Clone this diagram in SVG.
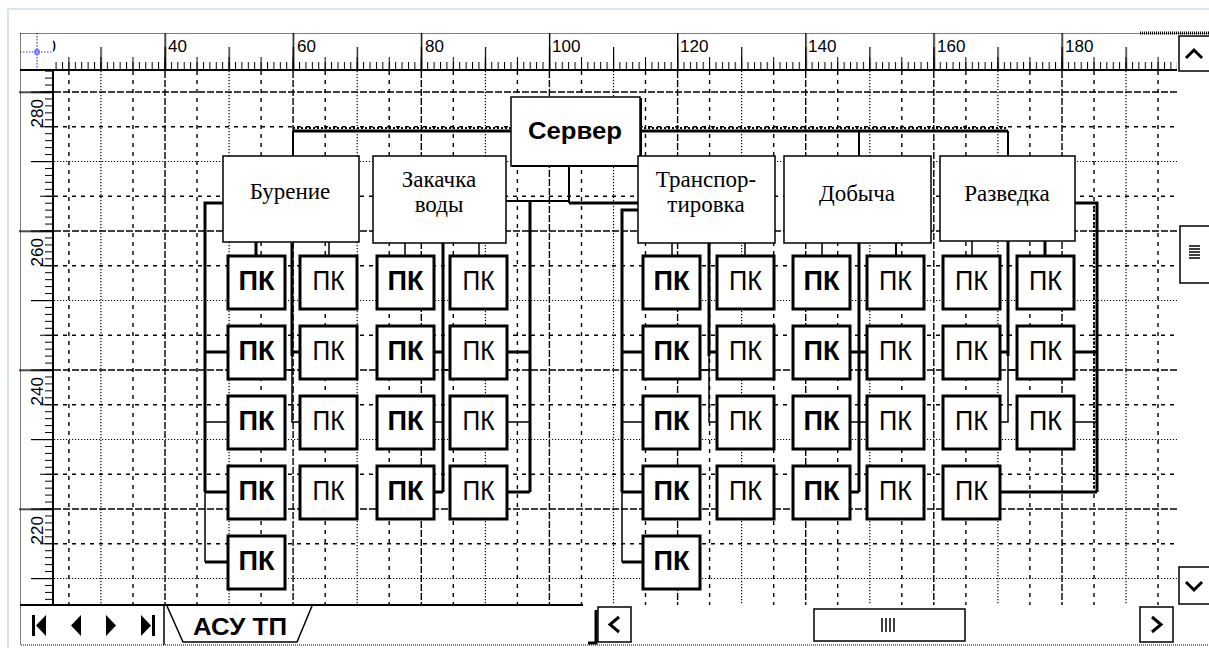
<svg xmlns="http://www.w3.org/2000/svg" width="1209" height="648" viewBox="0 0 1209 648">
<style>
.gM{stroke:#000;stroke-width:1.4;stroke-dasharray:7 2;fill:none}
.gF{stroke:#000;stroke-width:1.4;stroke-dasharray:4 5;fill:none}
.gT{stroke:#000;stroke-width:1.2;stroke-dasharray:1.2 1.8;fill:none}
.rl{font-family:"Liberation Sans",Arial,sans-serif;font-size:17px;fill:#000}
.dept rect{fill:#fff;stroke:#000;stroke-width:1.5}
.dept text{font-family:"Liberation Serif","Times New Roman",serif;font-size:23px;text-anchor:middle;fill:#000}
.pc rect{fill:#fff;stroke:#000;stroke-width:3}
.pc text{font-family:"Liberation Sans",Arial,sans-serif;font-size:27px;text-anchor:middle;fill:#000}
.b{font-weight:bold}
.thk{stroke:#000;stroke-width:3;fill:none}
.thn{stroke:#000;stroke-width:1.5;fill:none}
.mid{stroke:#000;stroke-width:2;fill:none}
.btn{fill:#fff;stroke:#000;stroke-width:1.5}
.chev{fill:none;stroke:#000;stroke-width:3}
</style>
<defs>
<pattern id="tU" patternUnits="userSpaceOnUse" x="164.5" y="62" width="6.407" height="8"><rect x="0" y="0" width="1" height="8" fill="#000"/></pattern>
<pattern id="tF" patternUnits="userSpaceOnUse" x="164.5" y="57" width="32.035" height="13"><rect x="0" y="0" width="1" height="13" fill="#000"/></pattern>
<pattern id="tT" patternUnits="userSpaceOnUse" x="164.5" y="47" width="64.07" height="23"><rect x="0" y="0" width="1.2" height="23" fill="#000"/></pattern>
<pattern id="tM" patternUnits="userSpaceOnUse" x="164.5" y="33" width="128.14" height="37"><rect x="0" y="0" width="1.4" height="37" fill="#000"/></pattern>
<pattern id="lU" patternUnits="userSpaceOnUse" x="45" y="230.5" width="8" height="6.95"><rect x="0" y="0" width="8" height="1" fill="#000"/></pattern>
<pattern id="lF" patternUnits="userSpaceOnUse" x="40" y="230.5" width="13" height="34.75"><rect x="0" y="0" width="13" height="1" fill="#000"/></pattern>
<pattern id="lT" patternUnits="userSpaceOnUse" x="31" y="230.5" width="22" height="69.5"><rect x="0" y="0" width="22" height="1.2" fill="#000"/></pattern>
<pattern id="lM" patternUnits="userSpaceOnUse" x="19" y="230.5" width="34" height="139"><rect x="0" y="0" width="34" height="1.4" fill="#000"/></pattern>
</defs>
<rect x="0" y="0" width="1209" height="648" fill="#fff"/>
<rect x="8" y="9" width="1215" height="660" fill="none" stroke="#d5e8f0" stroke-width="2"/>

<g id="grid">
<path class="gF" d="M68.9,71V605M133,71V605M197,71V605M261.1,71V605M325.2,71V605M389.2,71V605M453.3,71V605M517.4,71V605M581.5,71V605M645.5,71V605M709.6,71V605M773.7,71V605M837.7,71V605M901.8,71V605M965.9,71V605M1029.9,71V605M1094,71V605M1158,71V605"/>
<path class="gT" d="M100.9,71V605M229.1,71V605M357.2,71V605M485.4,71V605M613.5,71V605M741.6,71V605M869.8,71V605M997.9,71V605M1126,71V605"/>
<path class="gM" d="M165,71V605M293.1,71V605M421.3,71V605M549.4,71V605M677.6,71V605M805.7,71V605M933.8,71V605M1062,71V605"/>
<path class="gF" d="M54,126.8H1177M54,196.3H1177M54,265.8H1177M54,335.3H1177M54,404.8H1177M54,474.3H1177M54,543.8H1177"/>
<path class="gT" d="M54,161.5H1177M54,300.5H1177M54,439.5H1177M54,578.5H1177"/>
<path class="gM" d="M54,92H1177M54,231H1177M54,370H1177M54,509H1177"/>
</g>

<g id="rulers">
<rect x="53" y="62" width="1124" height="8" fill="url(#tU)"/>
<rect x="53" y="57" width="1124" height="13" fill="url(#tF)"/>
<rect x="53" y="47" width="1124" height="23" fill="url(#tT)"/>
<rect x="53" y="33" width="1124" height="37" fill="url(#tM)"/>
<text class="rl" x="37" y="52">20</text>
<text class="rl" x="168" y="52">40</text>
<text class="rl" x="297" y="52">60</text>
<text class="rl" x="425" y="52">80</text>
<text class="rl" x="552" y="52">100</text>
<text class="rl" x="680" y="52">120</text>
<text class="rl" x="808" y="52">140</text>
<text class="rl" x="937" y="52">160</text>
<text class="rl" x="1065" y="52">180</text>
<rect x="45" y="71" width="8" height="534" fill="url(#lU)"/>
<rect x="40" y="71" width="13" height="534" fill="url(#lF)"/>
<rect x="31" y="71" width="22" height="534" fill="url(#lT)"/>
<rect x="19" y="71" width="34" height="534" fill="url(#lM)"/>
<text class="rl" text-anchor="end" transform="translate(43,99) rotate(-90)">280</text>
<text class="rl" text-anchor="end" transform="translate(43,238) rotate(-90)">260</text>
<text class="rl" text-anchor="end" transform="translate(43,377) rotate(-90)">240</text>
<text class="rl" text-anchor="end" transform="translate(43,516) rotate(-90)">220</text>
<rect x="20" y="33" width="33" height="37" fill="#fff"/>
<path d="M20,52H53M37,33V70" stroke="#3344ee" stroke-width="1.2" stroke-dasharray="1.5 1.5" fill="none"/>
<rect x="35" y="50" width="4" height="4" fill="none" stroke="#3344ee" stroke-width="1"/>
<path d="M20,70H1177M53,70V605" stroke="#000" stroke-width="2" fill="none"/>
</g>

<g id="connectors">
<path class="thk" d="M293,131H511M640,131H1008"/>
<path d="M293,128H511M640,128H1008" stroke="#000" stroke-width="2" stroke-dasharray="2 2" fill="none"/>
<path class="mid" d="M293,131V156M859,131V156M1008,131V156"/>
<path class="mid" d="M506,201H569M569,166V203"/>
<path class="thk" d="M569,203H638"/>
<path class="thk" d="M223,203H205V492"/>
<path class="thn" d="M205,492V562"/>
<path class="thk" d="M205,352H228M205,492H228M205,562H228"/>
<path class="thn" d="M205,422H228"/>
<path class="thk" d="M292,243V356M292,352H300"/>
<path class="thn" d="M292,356V422H300M285,370H292"/>
<path class="thk" d="M443,243V492M434,352H443M434,492H443"/>
<path class="thn" d="M434,422H443M443,370H450"/>
<path class="thk" d="M530,201V492M507,352H530M507,492H530"/>
<path class="thn" d="M507,422H530"/>
<path class="thk" d="M638,210H622V492M622,352H643M622,492H643M622,562H643"/>
<path class="thn" d="M622,492V562M622,422H643"/>
<path class="thk" d="M709,243V356M709,352H717"/>
<path class="thn" d="M709,356V422H717M700,370H709"/>
<path class="thk" d="M859,243V492M850,352H867M850,492H859"/>
<path class="thn" d="M850,422H867"/>
<path class="thk" d="M1008,241V356M1000,352H1008"/>
<path class="thn" d="M1008,356V422H1000M1008,370H1017"/>
<path class="thk" d="M1075,203H1097V492M1074,352H1097M1000,492H1097"/>
<path d="M1094,206V489" stroke="#000" stroke-width="2" stroke-dasharray="2 2" fill="none"/>
<path class="thn" d="M1074,422H1097"/>
<path class="thk" d="M256,242V256M1045,241V256"/>
<path class="thn" d="M329,242V256M405,243V256M479,243V256M672,243V256M745,243V256M822,243V256M972,241V256"/>
<path class="mid" d="M896,243V256"/>
</g>

<g id="server" class="dept">
<rect x="511" y="97" width="129" height="69" stroke-width="2"/>
<path d="M512,166H641V98" stroke="#000" stroke-width="2" fill="none"/>
<text x="575" y="139" style="font-family:'Liberation Sans',Arial,sans-serif;font-weight:bold;font-size:24px" textLength="94" lengthAdjust="spacingAndGlyphs">Сервер</text>
</g>
<g id="burenie" class="dept"><rect x="223" y="156" width="136" height="86"/><text x="290" y="199">Бурение</text></g>
<g id="zakachka" class="dept"><rect x="373" y="156" width="133" height="87"/><text x="439" y="187">Закачка</text><text x="439" y="212">воды</text></g>
<g id="transport" class="dept"><rect x="638" y="156" width="137" height="87"/><text x="706" y="187">Транспор-</text><text x="706" y="212">тировка</text></g>
<g id="dobycha" class="dept"><rect x="784" y="156" width="147" height="87"/><text x="857" y="201">Добыча</text></g>
<g id="razvedka" class="dept"><rect x="940" y="156" width="135" height="85"/><text x="1007" y="201">Разведка</text></g>

<g id="pcs">
<g id="pc-1-1" class="pc"><rect x="228" y="256" width="57" height="53"/><text class="b" x="256.5" y="290" textLength="36" lengthAdjust="spacingAndGlyphs">ПК</text></g>
<g id="pc-1-2" class="pc"><rect x="228" y="326" width="57" height="53"/><text class="b" x="256.5" y="360" textLength="36" lengthAdjust="spacingAndGlyphs">ПК</text></g>
<g id="pc-1-3" class="pc"><rect x="228" y="396" width="57" height="53"/><text class="b" x="256.5" y="430" textLength="36" lengthAdjust="spacingAndGlyphs">ПК</text></g>
<g id="pc-1-4" class="pc"><rect x="228" y="466" width="57" height="53"/><text class="b" x="256.5" y="500" textLength="36" lengthAdjust="spacingAndGlyphs">ПК</text></g>
<g id="pc-1-5" class="pc"><rect x="228" y="536" width="57" height="53"/><text class="b" x="256.5" y="570" textLength="36" lengthAdjust="spacingAndGlyphs">ПК</text></g>
<g id="pc-2-1" class="pc"><rect x="300" y="256" width="57" height="53"/><text x="328.5" y="290" textLength="32" lengthAdjust="spacingAndGlyphs">ПК</text></g>
<g id="pc-2-2" class="pc"><rect x="300" y="326" width="57" height="53"/><text x="328.5" y="360" textLength="32" lengthAdjust="spacingAndGlyphs">ПК</text></g>
<g id="pc-2-3" class="pc"><rect x="300" y="396" width="57" height="53"/><text x="328.5" y="430" textLength="32" lengthAdjust="spacingAndGlyphs">ПК</text></g>
<g id="pc-2-4" class="pc"><rect x="300" y="466" width="57" height="53"/><text x="328.5" y="500" textLength="32" lengthAdjust="spacingAndGlyphs">ПК</text></g>
<g id="pc-3-1" class="pc"><rect x="377" y="256" width="57" height="53"/><text class="b" x="405.5" y="290" textLength="36" lengthAdjust="spacingAndGlyphs">ПК</text></g>
<g id="pc-3-2" class="pc"><rect x="377" y="326" width="57" height="53"/><text class="b" x="405.5" y="360" textLength="36" lengthAdjust="spacingAndGlyphs">ПК</text></g>
<g id="pc-3-3" class="pc"><rect x="377" y="396" width="57" height="53"/><text class="b" x="405.5" y="430" textLength="36" lengthAdjust="spacingAndGlyphs">ПК</text></g>
<g id="pc-3-4" class="pc"><rect x="377" y="466" width="57" height="53"/><text class="b" x="405.5" y="500" textLength="36" lengthAdjust="spacingAndGlyphs">ПК</text></g>
<g id="pc-4-1" class="pc"><rect x="450" y="256" width="57" height="53"/><text x="478.5" y="290" textLength="32" lengthAdjust="spacingAndGlyphs">ПК</text></g>
<g id="pc-4-2" class="pc"><rect x="450" y="326" width="57" height="53"/><text x="478.5" y="360" textLength="32" lengthAdjust="spacingAndGlyphs">ПК</text></g>
<g id="pc-4-3" class="pc"><rect x="450" y="396" width="57" height="53"/><text x="478.5" y="430" textLength="32" lengthAdjust="spacingAndGlyphs">ПК</text></g>
<g id="pc-4-4" class="pc"><rect x="450" y="466" width="57" height="53"/><text x="478.5" y="500" textLength="32" lengthAdjust="spacingAndGlyphs">ПК</text></g>
<g id="pc-5-1" class="pc"><rect x="643" y="256" width="57" height="53"/><text class="b" x="671.5" y="290" textLength="36" lengthAdjust="spacingAndGlyphs">ПК</text></g>
<g id="pc-5-2" class="pc"><rect x="643" y="326" width="57" height="53"/><text class="b" x="671.5" y="360" textLength="36" lengthAdjust="spacingAndGlyphs">ПК</text></g>
<g id="pc-5-3" class="pc"><rect x="643" y="396" width="57" height="53"/><text class="b" x="671.5" y="430" textLength="36" lengthAdjust="spacingAndGlyphs">ПК</text></g>
<g id="pc-5-4" class="pc"><rect x="643" y="466" width="57" height="53"/><text class="b" x="671.5" y="500" textLength="36" lengthAdjust="spacingAndGlyphs">ПК</text></g>
<g id="pc-5-5" class="pc"><rect x="643" y="536" width="57" height="53"/><text class="b" x="671.5" y="570" textLength="36" lengthAdjust="spacingAndGlyphs">ПК</text></g>
<g id="pc-6-1" class="pc"><rect x="717" y="256" width="57" height="53"/><text x="745.5" y="290" textLength="33" lengthAdjust="spacingAndGlyphs">ПК</text></g>
<g id="pc-6-2" class="pc"><rect x="717" y="326" width="57" height="53"/><text x="745.5" y="360" textLength="33" lengthAdjust="spacingAndGlyphs">ПК</text></g>
<g id="pc-6-3" class="pc"><rect x="717" y="396" width="57" height="53"/><text x="745.5" y="430" textLength="33" lengthAdjust="spacingAndGlyphs">ПК</text></g>
<g id="pc-6-4" class="pc"><rect x="717" y="466" width="57" height="53"/><text x="745.5" y="500" textLength="33" lengthAdjust="spacingAndGlyphs">ПК</text></g>
<g id="pc-7-1" class="pc"><rect x="793" y="256" width="57" height="53"/><text class="b" x="821.5" y="290" textLength="36" lengthAdjust="spacingAndGlyphs">ПК</text></g>
<g id="pc-7-2" class="pc"><rect x="793" y="326" width="57" height="53"/><text class="b" x="821.5" y="360" textLength="36" lengthAdjust="spacingAndGlyphs">ПК</text></g>
<g id="pc-7-3" class="pc"><rect x="793" y="396" width="57" height="53"/><text class="b" x="821.5" y="430" textLength="36" lengthAdjust="spacingAndGlyphs">ПК</text></g>
<g id="pc-7-4" class="pc"><rect x="793" y="466" width="57" height="53"/><text class="b" x="821.5" y="500" textLength="36" lengthAdjust="spacingAndGlyphs">ПК</text></g>
<g id="pc-8-1" class="pc"><rect x="867" y="256" width="57" height="53"/><text x="895.5" y="290" textLength="33" lengthAdjust="spacingAndGlyphs">ПК</text></g>
<g id="pc-8-2" class="pc"><rect x="867" y="326" width="57" height="53"/><text x="895.5" y="360" textLength="33" lengthAdjust="spacingAndGlyphs">ПК</text></g>
<g id="pc-8-3" class="pc"><rect x="867" y="396" width="57" height="53"/><text x="895.5" y="430" textLength="33" lengthAdjust="spacingAndGlyphs">ПК</text></g>
<g id="pc-8-4" class="pc"><rect x="867" y="466" width="57" height="53"/><text x="895.5" y="500" textLength="33" lengthAdjust="spacingAndGlyphs">ПК</text></g>
<g id="pc-9-1" class="pc"><rect x="943" y="256" width="57" height="53"/><text x="971.5" y="290" textLength="33" lengthAdjust="spacingAndGlyphs">ПК</text></g>
<g id="pc-9-2" class="pc"><rect x="943" y="326" width="57" height="53"/><text x="971.5" y="360" textLength="33" lengthAdjust="spacingAndGlyphs">ПК</text></g>
<g id="pc-9-3" class="pc"><rect x="943" y="396" width="57" height="53"/><text x="971.5" y="430" textLength="33" lengthAdjust="spacingAndGlyphs">ПК</text></g>
<g id="pc-9-4" class="pc"><rect x="943" y="466" width="57" height="53"/><text x="971.5" y="500" textLength="33" lengthAdjust="spacingAndGlyphs">ПК</text></g>
<g id="pc-10-1" class="pc"><rect x="1017" y="256" width="57" height="53"/><text x="1045.5" y="290" textLength="33" lengthAdjust="spacingAndGlyphs">ПК</text></g>
<g id="pc-10-2" class="pc"><rect x="1017" y="326" width="57" height="53"/><text x="1045.5" y="360" textLength="33" lengthAdjust="spacingAndGlyphs">ПК</text></g>
<g id="pc-10-3" class="pc"><rect x="1017" y="396" width="57" height="53"/><text x="1045.5" y="430" textLength="33" lengthAdjust="spacingAndGlyphs">ПК</text></g>
</g>

<g id="window-ui">
<rect x="20" y="606" width="1189" height="40" fill="#fff"/>
<rect x="1178" y="33" width="31" height="572" fill="#fff"/>
<path d="M20,605H583" stroke="#000" stroke-width="2" fill="none"/>
<path d="M164,605V645" stroke="#000" stroke-width="1.5"/>
<path d="M167,606L183,642H297L312,606" stroke="#000" stroke-width="1.5" fill="#fff"/>
<text x="240" y="635" text-anchor="middle" style="font-family:'Liberation Sans',Arial,sans-serif;font-weight:bold;font-size:24px" textLength="94" lengthAdjust="spacingAndGlyphs">АСУ ТП</text>
<rect x="32" y="615" width="3" height="21" fill="#000"/>
<polygon points="46,615 46,636 36,625.5" fill="#000"/>
<polygon points="81,615 81,636 71,625.5" fill="#000"/>
<polygon points="106,615 106,636 116,625.5" fill="#000"/>
<polygon points="141,615 141,636 151,625.5" fill="#000"/>
<rect x="152" y="615" width="3" height="21" fill="#000"/>
<path d="M596,610V643H588" stroke="#000" stroke-width="3" fill="none"/>
<rect class="btn" x="598" y="607" width="33" height="35"/>
<path class="chev" d="M619,617L610,624.5L619,632"/>
<rect class="btn" x="814" y="609" width="151" height="32"/>
<path d="M882,618V632M886,618V632M890,618V632M894,618V632" stroke="#000" stroke-width="1.5"/>
<rect class="btn" x="1140" y="607" width="33" height="35"/>
<path class="chev" d="M1152,617L1161,624.5L1152,632"/>
<rect class="btn" x="1179" y="36" width="34" height="35"/>
<path class="chev" d="M1186,58L1194,50L1202,58"/>
<rect class="btn" x="1180" y="226" width="33" height="57"/>
<path d="M1189,246H1200M1189,249H1200M1189,252H1200M1189,255H1200M1189,258H1200" stroke="#000" stroke-width="1.5"/>
<rect class="btn" x="1179" y="567" width="34" height="37"/>
<path class="chev" d="M1186,582L1194,590L1202,582"/>
<path d="M1140,33H1209" stroke="#000" stroke-width="3" stroke-dasharray="1 1"/>
<rect x="20.5" y="33.5" width="1200" height="611.5" fill="none" stroke="#000" stroke-width="1" stroke-dasharray="1 1"/>
</g>
</svg>
